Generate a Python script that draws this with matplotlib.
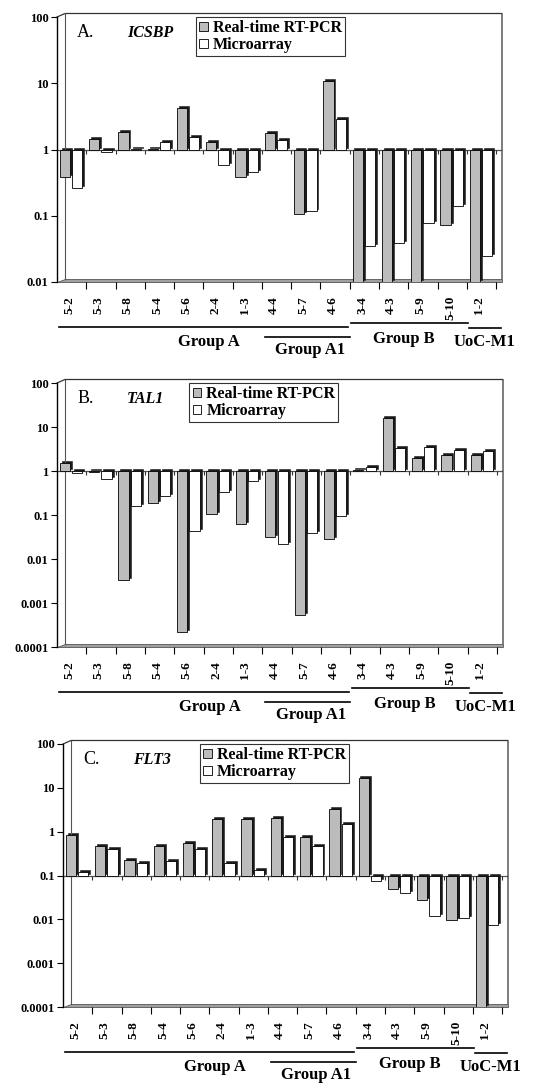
import matplotlib
matplotlib.use("Agg")
import matplotlib.pyplot as plt
import numpy as np
from matplotlib.patches import Polygon, Patch
from matplotlib.lines import Line2D
from matplotlib.ticker import FixedLocator, FuncFormatter, NullLocator
import matplotlib.transforms as mtransforms

plt.rcParams['font.family'] = ['Liberation Serif', 'DejaVu Serif']
plt.rcParams['font.weight'] = 'bold'

samples = ['5-2', '5-3', '5-8', '5-4', '5-6', '2-4', '1-3', '4-4', '5-7', '4-6',
           '3-4', '4-3', '5-9', '5-10', '1-2']

# fold change, real-time RT-PCR vs microarray
icsbp_rt = [0.39, 1.46, 1.86, 1.03, 4.3, 1.3, 0.38, 1.8, 0.105, 10.9,
            0.01, 0.01, 0.01, 0.072, 0.01]
icsbp_ma = [0.26, 0.93, 1.03, 1.3, 1.57, 0.58, 0.46, 1.4, 0.118, 2.9,
            0.035, 0.039, 0.077, 0.14, 0.025]

tal1_rt = [1.5, 0.97, 0.0033, 0.19, 0.00022, 0.105, 0.063, 0.032, 0.00053, 0.028,
           1.05, 16, 2.0, 2.3, 2.3]
tal1_ma = [0.9, 0.66, 0.16, 0.27, 0.044, 0.33, 0.59, 0.022, 0.04, 0.095,
           1.25, 3.3, 3.5, 3.0, 2.9]

flt3_rt = [0.85, 0.46, 0.22, 0.48, 0.56, 1.9, 1.9, 2.0, 0.75, 3.3,
           17, 0.05, 0.027, 0.0095, 0.0001]
flt3_ma = [0.123, 0.41, 0.19, 0.21, 0.40, 0.19, 0.135, 0.74, 0.47, 1.5,
           0.075, 0.04, 0.012, 0.011, 0.0073]

# group name, first category, last category (as boundaries)
groups = [('Group A', 0.07, 9.95), ('Group A1', 7.1, 10.0),
          ('Group B', 10.05, 14.05), ('UoC-M1', 14.08, 15.15)]

W, H = 540, 1083
fig = plt.figure(figsize=(W / 100, H / 100), dpi=100)

panels = [
    dict(letter='A.', gene='ICSBP', rt=icsbp_rt, ma=icsbp_ma, base=1.0,
         ylim=(0.01, 100), box=(57, 17, 502, 282), leg_x=0.312),
    dict(letter='B.', gene='TAL1', rt=tal1_rt, ma=tal1_ma, base=1.0,
         ylim=(0.0001, 100), box=(57, 383, 503, 647), leg_x=0.297),
    dict(letter='C.', gene='FLT3', rt=flt3_rt, ma=flt3_ma, base=0.1,
         ylim=(0.0001, 100), box=(63, 744, 508, 1007), leg_x=0.308),
]

# y offsets (px below axes) for group lines / labels
line_off = {'Group A': 45, 'Group A1': 55, 'Group B': 41, 'UoC-M1': 46}
text_off = {'Group A': 60, 'Group A1': 68, 'Group B': 57, 'UoC-M1': 60}
text_x = {'Group A': 5.2, 'Group A1': 8.65, 'Group B': 11.85, 'UoC-M1': 14.6}

GRAY = '#bcbcbc'
x = np.arange(len(samples))

for p in panels:
    l, t, r, b = p['box']
    ax = fig.add_axes([l / W, 1 - b / H, (r - l) / W, (b - t) / H])
    hpx = b - t
    ax.set_yscale('log')
    ax.set_ylim(*p['ylim'])
    ax.set_xlim(0, 15.2)
    ndec = np.log10(p['ylim'][1] / p['ylim'][0])
    shift = 10 ** (2.0 * ndec / hpx)
    base = p['base']

    ax.axhline(base, color='#555555', lw=0.9, zorder=1)

    rt = np.array(p['rt'])
    ma = np.array(p['ma'])
    w = 0.35
    for vals, xc, col in ((rt, x + 0.27, GRAY), (ma, x + 0.69, 'white')):
        ax.bar(xc + 0.065, (vals - base) * shift, bottom=base * shift, width=w,
               color='#1a1a1a', edgecolor='#1a1a1a', lw=0.4, zorder=2)
        ax.bar(xc, vals - base, bottom=base, width=w, color=col,
               edgecolor='black', lw=0.6, zorder=3)

    # small tick marks on the baseline plane
    ax.plot(np.arange(1, 16), [base] * 15, ls='none', marker=3, ms=3,
            color='#333333', mew=0.8, zorder=1)

    for s in ['top', 'right', 'bottom']:
        ax.spines[s].set_visible(False)
    ax.spines['left'].set_linewidth(1.0)

    # back wall and floor of the pseudo-3D frame
    dx, dy = 8 / (r - l), 3.5 / hpx
    ax.add_patch(Polygon([(0, 0), (1.0, 0), (1.0, dy), (dx, dy)],
                         closed=True, transform=ax.transAxes, facecolor='#a0a0a0',
                         edgecolor='#555555', lw=0.6, clip_on=False, zorder=1))
    ax.add_line(Line2D([0, dx, 1.0, 1.0], [1.0, 1.0 + dy, 1.0 + dy, dy],
                       transform=ax.transAxes, color='#333333', lw=0.9, clip_on=False))
    ax.add_line(Line2D([dx, dx], [dy, 1.0 + dy], transform=ax.transAxes,
                       color='#555555', lw=0.8, clip_on=False))

    ax.yaxis.set_major_locator(FixedLocator([10.0 ** k for k in range(-4, 3)]))
    ax.yaxis.set_minor_locator(NullLocator())
    ax.yaxis.set_major_formatter(FuncFormatter(lambda v, pos: f'{v:g}'))
    ax.tick_params(axis='y', direction='out', length=4, width=0.8, labelsize=9, pad=2)

    ax.xaxis.set_major_locator(FixedLocator(np.arange(1, 16)))
    ax.xaxis.set_major_formatter(FuncFormatter(lambda v, pos: ''))
    ax.set_xticks(x + 0.42, samples, minor=True, rotation=90)
    ax.tick_params(axis='x', which='major', direction='out', length=5, width=0.8)
    ax.tick_params(axis='x', which='minor', length=0, labelsize=9.5, pad=10)

    ax.text(0.045, 0.94, p['letter'], transform=ax.transAxes, fontsize=13,
            fontweight='normal', va='center', ha='left')
    ax.text(0.157, 0.94, p['gene'], transform=ax.transAxes, fontsize=11.5,
            fontstyle='italic', fontweight='bold', va='center', ha='left')

    handles = [Patch(facecolor=GRAY, edgecolor='black', lw=0.6),
               Patch(facecolor='white', edgecolor='black', lw=0.6)]
    leg = ax.legend(handles, ['Real-time RT-PCR', 'Microarray'], loc='upper left',
                    bbox_to_anchor=(p['leg_x'], 1.0), frameon=True, fancybox=False,
                    edgecolor='black', fontsize=11.5, handlelength=0.55,
                    handleheight=0.55, handletextpad=0.3, borderpad=0.2,
                    labelspacing=0.05, borderaxespad=0)
    leg.get_frame().set_linewidth(0.8)

    trans = mtransforms.blended_transform_factory(ax.transData, ax.transAxes)
    for name, x0, x1 in groups:
        yl = -line_off[name] / hpx
        ax.add_line(Line2D([x0, x1], [yl, yl], transform=trans, color='black',
                           lw=1.2, clip_on=False))
        ax.text(text_x[name], -text_off[name] / hpx, name, transform=trans,
                ha='center', va='center', fontsize=12, clip_on=False)

fig.savefig('out.png', dpi=100)
